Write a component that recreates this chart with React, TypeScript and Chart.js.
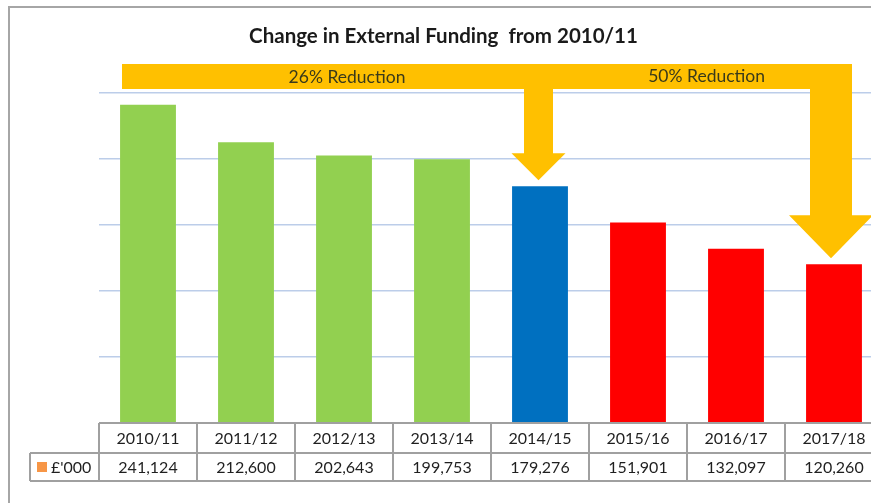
import React, { useEffect, useRef } from "react";
import { Chart, registerables } from "chart.js";

Chart.register(...registerables);

const TITLE = "Change in External Funding  from 2010/11";
const CATEGORIES = ["2010/11", "2011/12", "2012/13", "2013/14", "2014/15", "2015/16", "2016/17", "2017/18"];
const VALUES = [241124, 212600, 202643, 199753, 179276, 151901, 132097, 120260];
const VALUE_LABELS = ["241,124", "212,600", "202,643", "199,753", "179,276", "151,901", "132,097", "120,260"];
const BAR_COLORS = ["#92D050", "#92D050", "#92D050", "#92D050", "#0070C0", "#FF0000", "#FF0000", "#FF0000"];
const SERIES_NAME = "£'000";
const SERIES_SWATCH = "#F79646";
const ARROW_LABELS = ["26% Reduction", "50% Reduction"];
const ARROW_TARGETS = [4, 7];
const Y_MAX = 250000;
const Y_STEP = 50000;

const FONT = "Lato, 'Open Sans', 'Liberation Sans', sans-serif";

const overlayPlugin = {
  id: "overlay",
  afterDatasetsDraw(chart: any) {
    const ctx = chart.ctx as CanvasRenderingContext2D;
    const x = chart.scales.x;
    const y = chart.scales.y;
    const area = chart.chartArea;
    const n = CATEGORIES.length;
    const cw = (x.getPixelForValue(1) - x.getPixelForValue(0));
    ctx.save();

    // frame (top and left edges; right and bottom are outside the view)
    ctx.strokeStyle = "#A6A6A6";
    ctx.lineWidth = 2;
    ctx.beginPath();
    ctx.moveTo(9, chart.height + 5);
    ctx.lineTo(9, 7);
    ctx.lineTo(chart.width + 5, 7);
    ctx.stroke();

    // title
    ctx.fillStyle = "#1A1A1A";
    ctx.font = `bold 20.5px ${FONT}`;
    ctx.textAlign = "center";
    ctx.textBaseline = "alphabetic";
    ctx.fillText(TITLE, 443.5, 43);

    // data table
    const top = area.bottom;
    const rowH1 = 30;
    const rowH2 = 28;
    const left = x.getPixelForValue(0) - cw / 2;
    const right = x.getPixelForValue(n - 1) + cw / 2;
    const legendLeft = 30;
    ctx.strokeStyle = "#A0A0A0";
    ctx.lineWidth = 2;
    ctx.beginPath();
    ctx.moveTo(left, top);
    ctx.lineTo(right, top);
    ctx.moveTo(legendLeft, top + rowH1);
    ctx.lineTo(right, top + rowH1);
    ctx.moveTo(legendLeft, top + rowH1 + rowH2);
    ctx.lineTo(right, top + rowH1 + rowH2);
    ctx.moveTo(legendLeft, top + rowH1);
    ctx.lineTo(legendLeft, top + rowH1 + rowH2);
    for (let i = 0; i <= n; i++) {
      const px = left + i * cw;
      ctx.moveTo(px, top);
      ctx.lineTo(px, top + rowH1 + rowH2);
    }
    ctx.stroke();

    ctx.fillStyle = "#1F1F1F";
    ctx.font = `16px ${FONT}`;
    ctx.textAlign = "center";
    ctx.textBaseline = "middle";
    for (let i = 0; i < n; i++) {
      const cx = x.getPixelForValue(i);
      ctx.fillText(CATEGORIES[i], cx, top + rowH1 / 2 + 1);
      ctx.fillText(VALUE_LABELS[i], cx, top + rowH1 + rowH2 / 2 + 1);
    }
    ctx.fillStyle = SERIES_SWATCH;
    ctx.fillRect(37, top + rowH1 + rowH2 / 2 - 5, 10, 10);
    ctx.fillStyle = "#1F1F1F";
    ctx.textAlign = "left";
    ctx.fillText(SERIES_NAME, 51, top + rowH1 + rowH2 / 2 + 1);

    // arrows
    const bandTop = area.top - 29;
    const bandBot = bandTop + 25;
    const x0 = x.getPixelForValue(0) - 26;
    const c1 = x.getPixelForValue(ARROW_TARGETS[0]) - 1.5;
    const t1 = y.getPixelForValue(VALUES[ARROW_TARGETS[0]]) - 6;
    const c2 = x.getPixelForValue(ARROW_TARGETS[1]) - 3;
    const t2 = y.getPixelForValue(VALUES[ARROW_TARGETS[1]]) - 6;
    const s1 = 14.5, h1w = 27, h1h = 27;
    const s2 = 21, h2w = 42, h2h = 43;
    ctx.fillStyle = "#FFC000";
    ctx.beginPath();
    ctx.moveTo(x0, bandTop);
    ctx.lineTo(c2 + s2, bandTop);
    ctx.lineTo(c2 + s2, t2 - h2h);
    ctx.lineTo(c2 + h2w, t2 - h2h);
    ctx.lineTo(c2, t2);
    ctx.lineTo(c2 - h2w, t2 - h2h);
    ctx.lineTo(c2 - s2, t2 - h2h);
    ctx.lineTo(c2 - s2, bandBot);
    ctx.lineTo(c1 + s1, bandBot);
    ctx.lineTo(c1 + s1, t1 - h1h);
    ctx.lineTo(c1 + h1w, t1 - h1h);
    ctx.lineTo(c1, t1);
    ctx.lineTo(c1 - h1w, t1 - h1h);
    ctx.lineTo(c1 - s1, t1 - h1h);
    ctx.lineTo(c1 - s1, bandBot);
    ctx.lineTo(x0, bandBot);
    ctx.closePath();
    ctx.fill();

    ctx.fillStyle = "#3A3A1A";
    ctx.font = `17.5px ${FONT}`;
    ctx.textAlign = "center";
    ctx.textBaseline = "middle";
    ctx.fillText(ARROW_LABELS[0], x.getPixelForValue(2) + 3, (bandTop + bandBot) / 2 + 1);
    ctx.fillText(ARROW_LABELS[1], x.getPixelForValue(5.7), (bandTop + bandBot) / 2);
    ctx.restore();
  },
};

export default function App() {
  const ref = useRef<HTMLCanvasElement | null>(null);
  useEffect(() => {
    if (!ref.current) return;
    const chart = new Chart(ref.current, {
      type: "bar",
      data: {
        labels: CATEGORIES,
        datasets: [
          {
            label: SERIES_NAME,
            data: VALUES,
            backgroundColor: BAR_COLORS,
            borderWidth: 0,
            barPercentage: 0.57,
            categoryPercentage: 1,
          },
        ],
      },
      options: {
        responsive: false,
        animation: false,
        devicePixelRatio: 1,
        layout: { padding: { left: 99, right: 7, top: 93, bottom: 80 } },
        plugins: {
          legend: { display: false },
          title: { display: false },
          tooltip: { enabled: false },
        },
        scales: {
          x: { display: false },
          y: {
            display: true,
            min: 0,
            max: Y_MAX,
            ticks: { display: false, stepSize: Y_STEP },
            border: { display: false },
            grid: { color: "#BCCDE9", lineWidth: 1.5, drawTicks: false },
          },
        },
      },
      plugins: [overlayPlugin],
    });
    return () => chart.destroy();
  }, []);
  return (
    <div style={{ position: "fixed", left: 0, top: 0, width: 871, height: 503, overflow: "hidden", background: "#fff" }}>
      <canvas ref={ref} width={890} height={503} style={{ display: "block" }} />
    </div>
  );
}
